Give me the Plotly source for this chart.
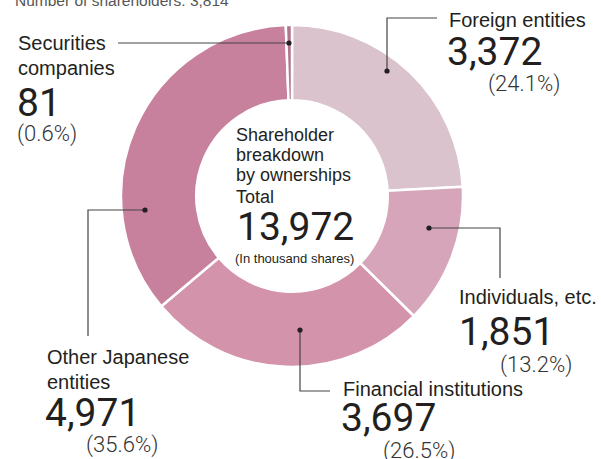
import plotly.graph_objects as go

# shareholder breakdown, thousand shares (clockwise from 12 o'clock)
categories = ["Foreign entities", "Individuals, etc.", "Financial institutions",
              "Other Japanese entities", "Securities companies"]
shares = [3372, 1851, 3697, 4971, 81]
percents = ["24.1%", "13.2%", "26.5%", "35.6%", "0.6%"]
total_shares = "13,972"
shareholders = "3,814"

colors = ["#dbc3cd", "#d6a5b9", "#d293ab", "#c8819c", "#b2758f"]

W, H = 601, 459
LABEL_FONT = "Liberation Sans, Arial, sans-serif"
NUM_FONT = "Roboto, Liberation Sans, sans-serif"
INK = "#231f20"


def px(x):
    return x / W


def py(y):
    return 1 - y / H


fig = go.Figure()

fig.add_trace(go.Pie(
    values=shares,
    labels=categories,
    hole=0.56,
    sort=False,
    direction="clockwise",
    rotation=0,
    textinfo="none",
    hoverinfo="label+value+percent",
    marker=dict(colors=colors, line=dict(color="white", width=2.5)),
    domain=dict(x=[px(292 - 171), px(292 + 171)], y=[py(196 + 171), py(196 - 171)]),
    showlegend=False,
))

annotations = []


def add_text(x, y, text, size, family=LABEL_FONT, weight=None, color=INK, anchor="left"):
    f = dict(family=family, size=size, color=color)
    if weight:
        f["weight"] = weight
    annotations.append(dict(
        x=px(x), y=py(y), xref="paper", yref="paper", text=text, showarrow=False,
        xanchor=anchor, yanchor="middle", font=f, align=anchor,
    ))


LBL = 20     # outside labels
NUM = 39     # big numbers
PCT = 22     # percentages
PCT_INK = "#333333"

# header, cut off at the top in the original
add_text(13, 0, "Number of shareholders: " + shareholders, 15.5, color="#555555")

# Securities companies
add_text(16, 43, "Securities", LBL)
add_text(16, 68, "companies", LBL)
add_text(15, 103, f"{shares[4]}", NUM, family=NUM_FONT)
add_text(15, 134, f"({percents[4]})", PCT, family=NUM_FONT, weight=300, color=PCT_INK)

# Foreign entities
add_text(447, 20, "Foreign entities", LBL)
add_text(445, 52, f"{shares[0]:,}", NUM, family=NUM_FONT)
add_text(486, 84, f"({percents[0]})", PCT, family=NUM_FONT, weight=300, color=PCT_INK)

# Individuals
add_text(457, 297, "Individuals, etc.", LBL)
add_text(457, 332, f"{shares[1]:,}", NUM, family=NUM_FONT)
add_text(498, 365, f"({percents[1]})", PCT, family=NUM_FONT, weight=300, color=PCT_INK)

# Financial institutions
add_text(341, 389, "Financial institutions", LBL)
add_text(339, 418, f"{shares[2]:,}", NUM, family=NUM_FONT)
add_text(381, 451, f"({percents[2]})", PCT, family=NUM_FONT, weight=300, color=PCT_INK)

# Other Japanese entities
add_text(45, 357, "Other Japanese", LBL)
add_text(45, 382, "entities", LBL)
add_text(43, 413, f"{shares[3]:,}", NUM, family=NUM_FONT)
add_text(84, 445, f"({percents[3]})", PCT, family=NUM_FONT, weight=300, color=PCT_INK)

# centre of the donut
add_text(234, 135, "Shareholder", 18)
add_text(234, 155, "breakdown", 18)
add_text(234, 175, "by ownerships", 18)
add_text(234, 197, "Total", 18)
add_text(235, 227, total_shares, NUM, family=NUM_FONT)
add_text(233, 258, "(In thousand shares)", 13, family="Liberation Sans Narrow, Liberation Sans, sans-serif")

# leader lines: list of points, first point is the dot on the ring
leaders = [
    [(289, 43), (118, 43)],
    [(387, 71), (387, 18), (437, 18)],
    [(429, 228), (500, 228), (500, 278)],
    [(300, 330), (300, 391), (330, 391)],
    [(145, 210), (88, 210), (88, 336)],
]

shapes = []
for pts in leaders:
    path = "M " + " L ".join(f"{px(x)},{py(y)}" for x, y in pts)
    shapes.append(dict(type="path", xref="paper", yref="paper", path=path,
                       line=dict(color="#444444", width=1.2)))
    dx, dy = pts[0]
    shapes.append(dict(type="circle", xref="paper", yref="paper",
                       x0=px(dx - 2.6), x1=px(dx + 2.6), y0=py(dy + 2.6), y1=py(dy - 2.6),
                       fillcolor=INK, line=dict(width=0)))

fig.update_layout(
    width=W,
    height=H,
    margin=dict(l=0, r=0, t=0, b=0),
    paper_bgcolor="white",
    plot_bgcolor="white",
    annotations=annotations,
    shapes=shapes,
)

# page body has a default 8px margin, drop it so the figure fills the window
fig.write_html("out.html", config={"displayModeBar": False},
               post_script="document.body.style.margin='0';")
